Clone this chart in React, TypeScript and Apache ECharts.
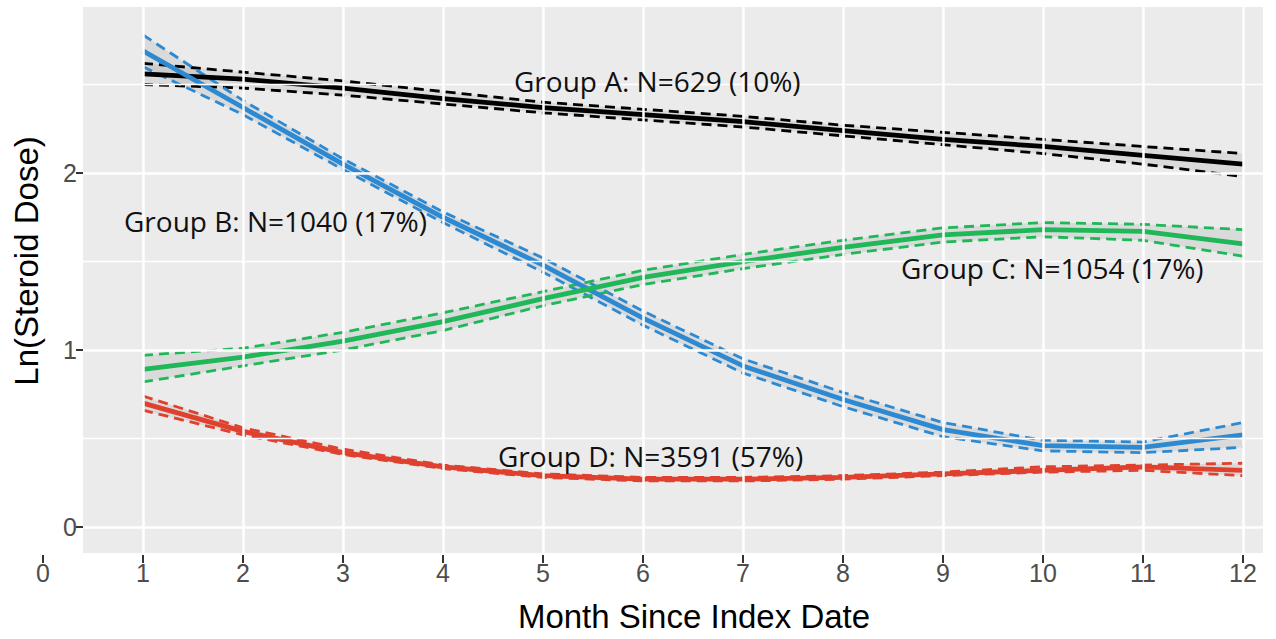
import React, { useEffect, useRef } from "react";
import * as echarts from "echarts";

const months = [1, 2, 3, 4, 5, 6, 7, 8, 9, 10, 11, 12];

const groupAMean = [2.56, 2.53, 2.48, 2.42, 2.37, 2.33, 2.29, 2.24, 2.19, 2.15, 2.10, 2.05];
const groupAUpper = [2.62, 2.57, 2.52, 2.46, 2.40, 2.36, 2.32, 2.27, 2.23, 2.19, 2.15, 2.11];
const groupALower = [2.50, 2.48, 2.44, 2.39, 2.34, 2.30, 2.26, 2.21, 2.16, 2.11, 2.05, 1.98];

const groupBMean = [2.69, 2.37, 2.05, 1.75, 1.48, 1.18, 0.91, 0.72, 0.55, 0.46, 0.45, 0.52];
const groupBUpper = [2.78, 2.41, 2.08, 1.78, 1.52, 1.22, 0.95, 0.76, 0.59, 0.49, 0.48, 0.59];
const groupBLower = [2.60, 2.33, 2.02, 1.72, 1.44, 1.14, 0.87, 0.68, 0.51, 0.43, 0.42, 0.45];

const groupCMean = [0.89, 0.96, 1.05, 1.16, 1.29, 1.41, 1.50, 1.58, 1.65, 1.68, 1.67, 1.60];
const groupCUpper = [0.97, 1.01, 1.10, 1.21, 1.33, 1.45, 1.54, 1.62, 1.69, 1.72, 1.71, 1.68];
const groupCLower = [0.82, 0.91, 1.00, 1.11, 1.25, 1.37, 1.46, 1.54, 1.61, 1.64, 1.62, 1.53];

const groupDMean = [0.70, 0.54, 0.42, 0.34, 0.29, 0.27, 0.27, 0.28, 0.30, 0.32, 0.34, 0.32];
const groupDUpper = [0.74, 0.56, 0.44, 0.35, 0.30, 0.28, 0.28, 0.29, 0.31, 0.34, 0.35, 0.36];
const groupDLower = [0.66, 0.52, 0.41, 0.33, 0.28, 0.26, 0.26, 0.27, 0.29, 0.31, 0.32, 0.29];

const groupLabels = [
  "Group A: N=629 (10%)",
  "Group B: N=1040 (17%)",
  "Group C: N=1054 (17%)",
  "Group D: N=3591 (57%)",
];

const majorXGrid = [1, 2, 3, 4, 5, 6, 7, 8, 9, 10, 11, 12];
const majorYGrid = [0, 1, 2];
const minorYGrid = [0.5, 1.5, 2.5];

const xTitle = "Month Since Index Date";
const yTitle = "Ln(Steroid Dose)";

const groups = [
  { mean: groupAMean, upper: groupAUpper, lower: groupALower, color: "#000000" },
  { mean: groupBMean, upper: groupBUpper, lower: groupBLower, color: "#2D8AD2" },
  { mean: groupCMean, upper: groupCUpper, lower: groupCLower, color: "#20B758" },
  { mean: groupDMean, upper: groupDUpper, lower: groupDLower, color: "#E0402E" },
];

const toPairs = (vals: number[]) => months.map((m, i) => [m, vals[i]]);

export default function App() {
  const ref = useRef<HTMLDivElement>(null);

  useEffect(() => {
    if (!ref.current) return;
    const chart = echarts.init(ref.current, undefined, { renderer: "svg" });

    const series: any[] = [];

    series.push({
      type: "line",
      xAxisIndex: 0,
      yAxisIndex: 0,
      data: [],
      silent: true,
      z: 1,
      markLine: {
        silent: true,
        symbol: ["none", "none"],
        label: { show: false },
        lineStyle: { color: "#ffffff", width: 1.3, type: "solid" },
        data: minorYGrid.map((v) => ({ yAxis: v })),
      },
    });
    series.push({
      type: "line",
      xAxisIndex: 0,
      yAxisIndex: 0,
      data: [],
      silent: true,
      z: 1,
      markLine: {
        silent: true,
        symbol: ["none", "none"],
        label: { show: false },
        lineStyle: { color: "#ffffff", width: 2.5, type: "solid" },
        data: [
          ...majorXGrid.map((v) => ({ xAxis: v })),
          ...majorYGrid.map((v) => ({ yAxis: v })),
        ],
      },
    });

    groups.forEach((g) => {
      series.push({
        type: "custom",
        xAxisIndex: 0,
        yAxisIndex: 0,
        z: 2,
        silent: true,
        clip: true,
        data: [[months[0], g.mean[0]]],
        renderItem: (_params: any, api: any) => {
          const pts: number[][] = [];
          for (let i = 0; i < months.length; i++) pts.push(api.coord([months[i], g.upper[i]]));
          for (let i = months.length - 1; i >= 0; i--) pts.push(api.coord([months[i], g.lower[i]]));
          return {
            type: "polygon",
            shape: { points: pts },
            style: { fill: "rgba(150,150,150,0.2)" },
          };
        },
      });
    });

    groups.forEach((g) => {
      series.push({
        type: "line",
        xAxisIndex: 0,
        yAxisIndex: 0,
        data: toPairs(g.upper),
        showSymbol: false,
        symbol: "none",
        silent: true,
        z: 3,
        lineStyle: { color: g.color, width: 2.8, type: [10, 6] },
      });
      series.push({
        type: "line",
        xAxisIndex: 0,
        yAxisIndex: 0,
        data: toPairs(g.lower),
        showSymbol: false,
        symbol: "none",
        silent: true,
        z: 3,
        lineStyle: { color: g.color, width: 2.8, type: [10, 6] },
      });
      series.push({
        type: "line",
        xAxisIndex: 0,
        yAxisIndex: 0,
        data: toPairs(g.mean),
        showSymbol: false,
        symbol: "none",
        silent: true,
        z: 4,
        lineStyle: { color: g.color, width: 4.8 },
      });
    });

    const textFont = '"Open Sans", "Noto Sans", sans-serif';
    const axisFont = '"Liberation Sans", Arial, sans-serif';

    const labelPos = [
      { x: 514, y: 81 },
      { x: 124, y: 221 },
      { x: 901, y: 268 },
      { x: 498, y: 456 },
    ];

    const option: any = {
      animation: false,
      grid: [
        {
          left: 83,
          right: 13,
          top: 7,
          bottom: 86,
          show: true,
          backgroundColor: "#EBEBEB",
          borderWidth: 0,
          containLabel: false,
        },
        { left: 43, right: 33, top: 554, height: 1, containLabel: false },
        { left: 83, width: 1180, top: 173, height: 354, containLabel: false },
      ],
      xAxis: [
        { type: "value", gridIndex: 0, min: 0.4, max: 12.2, show: false },
        {
          type: "value",
          gridIndex: 1,
          min: 0,
          max: 12,
          interval: 1,
          axisLine: { show: false },
          axisTick: { show: true, length: 8, lineStyle: { color: "#333333", width: 2 } },
          axisLabel: { fontSize: 25, color: "#4D4D4D", margin: 5, fontFamily: axisFont },
          splitLine: { show: false },
        },
        { type: "value", gridIndex: 2, min: 0, max: 1, show: false },
      ],
      yAxis: [
        { type: "value", gridIndex: 0, min: -0.147, max: 2.938, show: false },
        { type: "value", gridIndex: 1, min: 0, max: 1, show: false },
        {
          type: "value",
          gridIndex: 2,
          min: 0,
          max: 2,
          interval: 1,
          axisLine: { show: false },
          axisTick: { show: true, length: 7, lineStyle: { color: "#333333", width: 2 } },
          axisLabel: { fontSize: 25, color: "#4D4D4D", margin: 6, fontFamily: axisFont },
          splitLine: { show: false },
        },
      ],
      series,
      graphic: [
        ...groupLabels.map((t, i) => ({
          type: "text",
          x: labelPos[i].x,
          y: labelPos[i].y,
          z: 10,
          silent: true,
          style: {
            text: t,
            fontSize: 28,
            fontFamily: textFont,
            fill: "#111111",
            align: "left",
            verticalAlign: "middle",
          },
        })),
        {
          type: "text",
          x: 694,
          y: 616,
          silent: true,
          style: {
            text: xTitle,
            fontSize: 33,
            fontFamily: axisFont,
            fill: "#000000",
            align: "center",
            verticalAlign: "middle",
          },
        },
        {
          type: "text",
          x: 26,
          y: 261,
          rotation: Math.PI / 2,
          silent: true,
          style: {
            text: yTitle,
            fontSize: 33,
            fontFamily: axisFont,
            fill: "#000000",
            align: "center",
            verticalAlign: "middle",
          },
        },
      ],
    };

    chart.setOption(option);
    return () => chart.dispose();
  }, []);

  return (
    <div
      ref={ref}
      style={{ position: "fixed", left: 0, top: 0, width: 1276, height: 639, background: "#ffffff" }}
    />
  );
}
